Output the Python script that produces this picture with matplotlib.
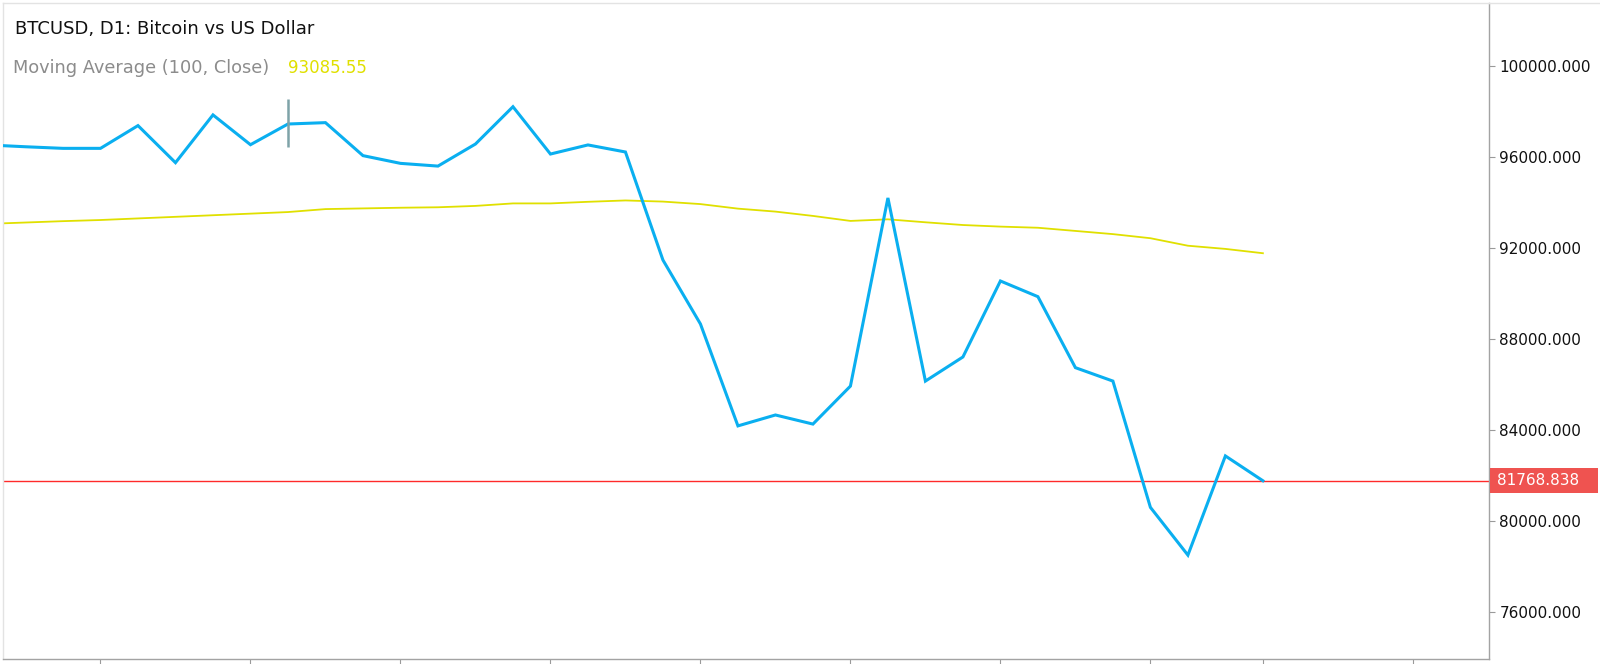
import numpy as np
import matplotlib
matplotlib.use("Agg")
import matplotlib.pyplot as plt
from matplotlib.lines import Line2D
from matplotlib.patches import Rectangle
from matplotlib.transforms import blended_transform_factory

# daily bars, index 0 = first full bar on screen (bar -1 is cut off at the left)
bars = list(range(-1, 34))
close = [96530, 96450, 96380, 96380, 97380, 95750, 97850, 96540, 97450, 97510,
         96060, 95720, 95600, 96570, 98210, 96130, 96530, 96220, 91470, 88660,
         84180, 84660, 84260, 85930, 94200, 86150, 87210, 90550, 89860, 86740,
         86150, 80600, 78500, 82860, 81768.838]
ma100 = [93060, 93120, 93180, 93230, 93300, 93370, 93440, 93510, 93580, 93710,
         93740, 93770, 93790, 93850, 93960, 93960, 94030, 94090, 94040, 93930,
         93730, 93600, 93410, 93190, 93260, 93130, 93010, 92940, 92890, 92750,
         92610, 92430, 92100, 91960, 91770]
last_price = 81768.838
ma_label = 93085.55
yticks = [76000, 80000, 84000, 88000, 92000, 96000, 100000]
xticks = [2, 6, 10, 14, 18, 22, 26, 30, 33, 37]
cursor_bar = 7

W, H = 1600, 664
ax_h = 664 - 3 - 5
f = plt.figure(figsize=(W / 100, H / 100), dpi=100)
ax = f.add_axes([3 / W, 5 / H, (1489 - 3) / W, ax_h / H])

ax.plot(bars, ma100, color="#e0e000", lw=1.3, zorder=2)
ax.plot(bars, close, color="#0aaff0", lw=2.2, zorder=3, solid_joinstyle="miter")
ax.axhline(last_price, color="#ff2a2a", lw=1.0, zorder=2)
ax.vlines(cursor_bar, 96450, 98560, color="#7ea3a8", lw=1.8, zorder=4)

ylo, yhi = 73934, 102769
ax.set_xlim(-0.6, 39.03)
ax.set_ylim(ylo, yhi)

ax.yaxis.tick_right()
ax.set_yticks(yticks, labels=["%.3f" % v for v in yticks])
ax.set_xticks(xticks, labels=[])
ax.tick_params(axis="y", length=4, width=0.8, color="#9a9a9a", pad=3.5,
               labelsize=11, labelcolor="#111111")
ax.tick_params(axis="x", direction="out", length=6, width=0.8, color="#9a9a9a")

for side in ["left", "top"]:
    ax.spines[side].set_color("#e3e3e3")
for side in ["right", "bottom"]:
    ax.spines[side].set_color("#a3a3a3")
for s in ax.spines.values():
    s.set_linewidth(1.0)

# top border runs across the price scale too
f.add_artist(Line2D([1489 / W, 1], [1 - 3 / H, 1 - 3 / H], transform=f.transFigure,
                    color="#e3e3e3", lw=1.0))

# last price tag on the scale
tag_h = 25 / ax_h * (yhi - ylo)
tr = blended_transform_factory(f.transFigure, ax.transData)
ax.add_patch(Rectangle((1489.5 / W, last_price - tag_h / 2), 108 / W, tag_h,
                       transform=tr, facecolor="#ef5350", edgecolor="none",
                       clip_on=False, zorder=5))
ax.text(1497 / W, last_price, "%.3f" % last_price, transform=tr,
        ha="left", va="center", color="white", fontsize=11, zorder=6)

f.text(15 / W, 1 - 29 / H, "BTCUSD, D1: Bitcoin vs US Dollar", fontsize=13,
       color="#111111", va="center", ha="left")
f.text(13 / W, 1 - 68 / H, "Moving Average (100, Close)", fontsize=12.8,
       color="#8c8c8c", va="center", ha="left")
f.text(288 / W, 1 - 68 / H, "%.2f" % ma_label, fontsize=12,
       color="#e0e000", va="center", ha="left")

plt.savefig("out.png", dpi=100)
